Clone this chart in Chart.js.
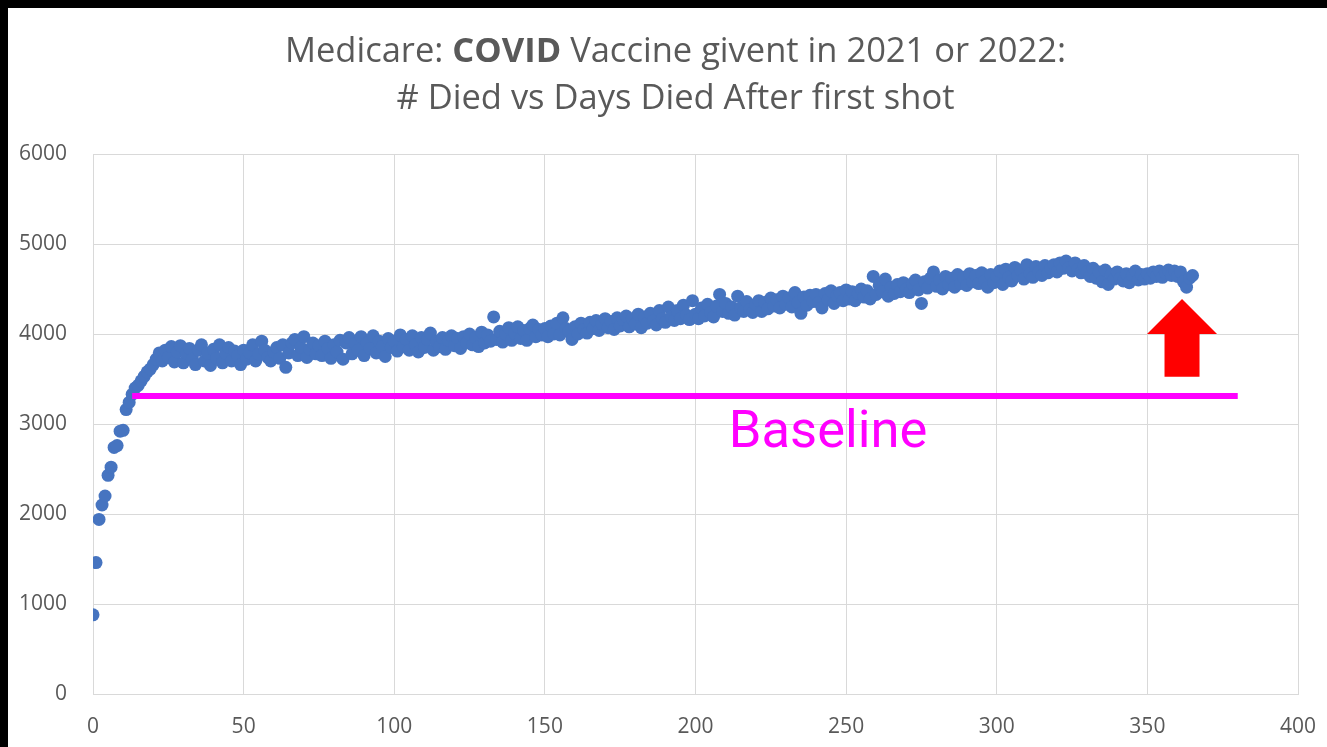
<!DOCTYPE html>
<html>
<head>
<meta charset="utf-8">
<script src="https://cdn.jsdelivr.net/npm/chart.js@4.4.1/dist/chart.umd.min.js"></script>
<style>
  html, body { margin: 0; padding: 0; background: #000; }
  #box { position: absolute; left: 8px; top: 8px; width: 1319px; height: 739px; background: #fff; }
  #title { position: absolute; left: 0; top: 17px; width: 1319px; padding-left: 16px; box-sizing: border-box;
           text-align: center; font-family: "Open Sans", sans-serif; font-size: 34.5px; line-height: 47px; color: #595959; }
  #chart { position: absolute; left: 0; top: 0; }
</style>
</head>
<body>
<div id="box">
  <canvas id="chart" width="1319" height="739"></canvas>
  <div id="title">Medicare: <b>COVID</b> Vaccine givent in 2021 or 2022:<br># Died vs Days Died After first shot</div>
</div>
<script>
  // tick labels
  var xTicks = [0, 50, 100, 150, 200, 250, 300, 350, 400];
  var yTicks = [0, 1000, 2000, 3000, 4000, 5000, 6000];

  // number died, one value per day after the first shot (day 0 .. 365)
  var deaths = [
    880, 1460, 1940, 2100, 2200, 2430, 2520, 2740, 2760, 2920,
    2930, 3160, 3240, 3330, 3400, 3430, 3480, 3530, 3580, 3610,
    3660, 3720, 3790, 3700, 3820, 3740, 3860, 3690, 3800, 3870,
    3680, 3790, 3840, 3720, 3660, 3820, 3880, 3700, 3790, 3650,
    3830, 3730, 3880, 3680, 3790, 3850, 3700, 3810, 3760, 3660,
    3820, 3720, 3790, 3880, 3700, 3780, 3920, 3820, 3740, 3700,
    3800, 3850, 3730, 3880, 3630, 3790, 3900, 3940, 3760, 3850,
    3970, 3740, 3830, 3900, 3780, 3870, 3760, 3920, 3840, 3730,
    3880, 3800, 3930, 3720, 3900, 3960, 3780, 3890, 3820, 3970,
    3760, 3900, 3840, 3980, 3790, 3920, 3860, 3750, 3950, 3850,
    3920, 3810, 3990, 3860, 3940, 3820, 3980, 3880, 3800, 3960,
    3850, 3940, 4010, 3820, 3920, 3860, 3960, 3830, 3930, 3980,
    3870, 3950, 3840, 3970, 3900, 4000, 3880, 3960, 3860, 4020,
    3900, 3990, 3920, 4190, 3940, 4030, 3910, 4000, 4070, 3930,
    4010, 4080, 3950, 4040, 3930, 4060, 4100, 3970, 4050, 3990,
    4060, 3970, 4090, 4000, 4120, 3990, 4180, 4060, 4030, 3940,
    4080, 4000, 4120, 4050, 4010, 4130, 4060, 4150, 4040, 4110,
    4170, 4070, 4140, 4050, 4180, 4090, 4160, 4200, 4080, 4170,
    4110, 4220, 4070, 4190, 4120, 4230, 4150, 4100, 4260, 4170,
    4130, 4300, 4190, 4150, 4260, 4170, 4320, 4210, 4160, 4370,
    4220, 4170, 4290, 4200, 4330, 4240, 4190, 4310, 4440, 4250,
    4340, 4230, 4300, 4210, 4420, 4290, 4250, 4360, 4270, 4240,
    4330, 4370, 4250, 4350, 4280, 4400, 4310, 4380, 4290, 4420,
    4330, 4400, 4300, 4460, 4350, 4230, 4410, 4320, 4430, 4360,
    4440, 4350, 4290, 4450, 4380, 4480, 4340, 4430, 4460, 4370,
    4490, 4390, 4470, 4370, 4450, 4500, 4410, 4480, 4390, 4640,
    4440, 4540, 4470, 4610, 4420, 4520, 4450, 4550, 4470, 4570,
    4500, 4460, 4560, 4600, 4490, 4340, 4580, 4510, 4620, 4690,
    4530, 4600, 4500, 4640, 4550, 4620, 4520, 4660, 4560, 4630,
    4540, 4670, 4580, 4650, 4560, 4680, 4590, 4520, 4660, 4570,
    4640, 4700, 4550, 4720, 4630, 4590, 4740, 4650, 4710, 4610,
    4770, 4670, 4630, 4750, 4690, 4650, 4760, 4680, 4730, 4770,
    4690, 4790, 4730, 4810, 4740, 4700, 4790, 4720, 4680, 4760,
    4690, 4640, 4730, 4620, 4690, 4580, 4710, 4550, 4660, 4610,
    4690, 4620, 4590, 4670, 4570, 4650, 4700, 4600, 4660, 4610,
    4670, 4620, 4690, 4640, 4700, 4630, 4680, 4710, 4650, 4700,
    4640, 4690, 4580, 4520, 4620, 4650
  ];

  // the hand-drawn marks, in chart units
  var baselineFrom = 13, baselineTo = 380, baselineValue = 3310;
  var labelDay = 244, labelValue = 2890;
  var arrowDay = 361.5, arrowTip = 4390, arrowNeck = 4000, arrowTail = 3525;

  var points = deaths.map(function(v, i) { return { x: i, y: v }; });

  var marks = {
    id: 'marks',
    afterDatasetsDraw: function(chart) {
      var ctx = chart.ctx, x = chart.scales.x, y = chart.scales.y;
      ctx.save();
      // magenta baseline
      ctx.strokeStyle = '#ff00ff';
      ctx.lineWidth = 6;
      ctx.beginPath();
      ctx.moveTo(x.getPixelForValue(baselineFrom), y.getPixelForValue(baselineValue));
      ctx.lineTo(x.getPixelForValue(baselineTo), y.getPixelForValue(baselineValue));
      ctx.stroke();
      ctx.fillStyle = '#ff00ff';
      ctx.font = '52.5px Roboto';
      ctx.textAlign = 'center';
      ctx.textBaseline = 'middle';
      ctx.fillText('Baseline', x.getPixelForValue(labelDay), y.getPixelForValue(labelValue));
      // red arrow
      var ax = x.getPixelForValue(arrowDay);
      var tip = y.getPixelForValue(arrowTip), neck = y.getPixelForValue(arrowNeck), tail = y.getPixelForValue(arrowTail);
      ctx.fillStyle = '#ff0000';
      ctx.beginPath();
      ctx.moveTo(ax, tip);
      ctx.lineTo(ax + 35, neck);
      ctx.lineTo(ax + 17.5, neck);
      ctx.lineTo(ax + 17.5, tail);
      ctx.lineTo(ax - 17.5, tail);
      ctx.lineTo(ax - 17.5, neck);
      ctx.lineTo(ax - 35, neck);
      ctx.closePath();
      ctx.fill();
      ctx.restore();
    }
  };

  var ctx = document.getElementById('chart');
  var chart = new Chart(ctx, {
    type: 'scatter',
    data: {
      datasets: [{
        label: '# Died',
        data: points,
        backgroundColor: '#4674c0',
        borderWidth: 0,
        pointRadius: 6.5
      }]
    },
    options: {
      responsive: false,
      animation: false,
      layout: { padding: { left: 0, top: 146, right: 29, bottom: 0 } },
      plugins: { legend: { display: false }, tooltip: { enabled: false } },
      scales: {
        x: {
          type: 'linear', min: 0, max: 400,
          afterBuildTicks: function(s) { s.ticks = xTicks.map(function(v) { return { value: v }; }); },
          afterFit: function(s) { s.height = 53; s.paddingLeft = 0; s.paddingRight = 0; },
          grid: { color: '#d9d9d9', drawTicks: false },
          border: { color: '#d9d9d9' },
          ticks: { padding: 20, color: '#595959', font: { family: 'Open Sans', size: 21 },
                   callback: function(v) { return String(v); } }
        },
        y: {
          min: 0, max: 6000,
          afterBuildTicks: function(s) { s.ticks = yTicks.map(function(v) { return { value: v }; }); },
          afterFit: function(s) { s.width = 85; s.paddingTop = 0; s.paddingBottom = 0; },
          grid: { color: '#d9d9d9', drawTicks: false },
          border: { color: '#d9d9d9' },
          ticks: { padding: 26, color: '#595959', font: { family: 'Open Sans', size: 21 },
                   callback: function(v) { return String(v); } }
        }
      }
    },
    plugins: [marks]
  });
</script>
</body>
</html>
